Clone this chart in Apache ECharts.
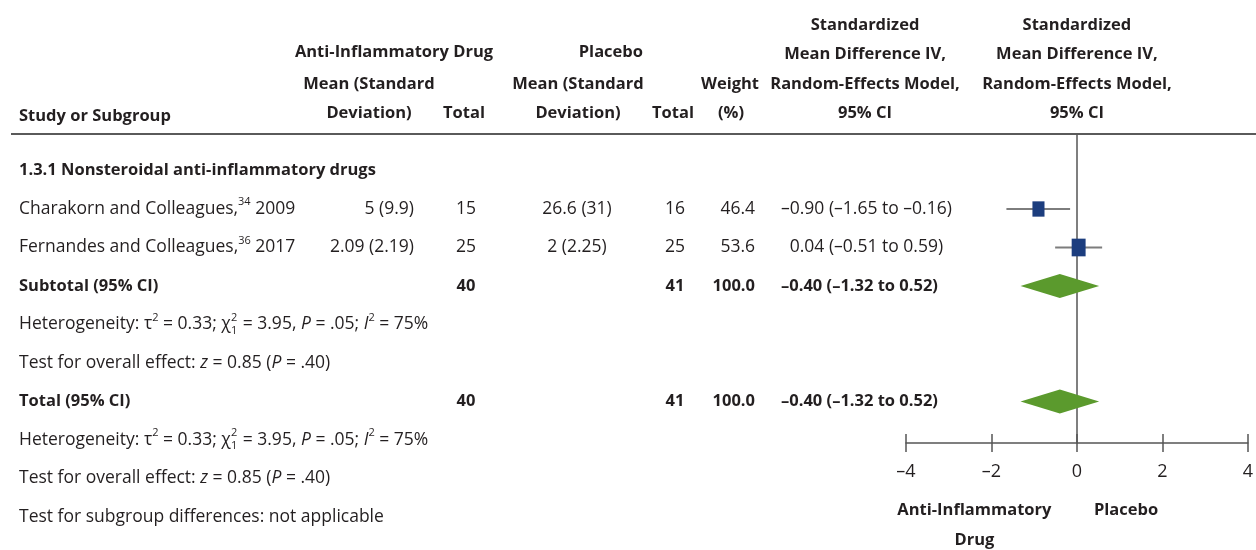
<!DOCTYPE html>
<html>
<head>
<meta charset="utf-8">
<script src="https://cdn.jsdelivr.net/npm/echarts@6/dist/echarts.min.js"></script>
<style>
html, body { margin: 0; padding: 0; background: #fff; }
#chart { width: 1256px; height: 550px; }
</style>
</head>
<body>
<div id="chart"></div>
<script>
// ---- data ----
var groupTitle = '1.3.1 Nonsteroidal anti-inflammatory drugs';
var studyNames = ['Charakorn and Colleagues,', 'Fernandes and Colleagues,'];
var studyRefs = ['34', '36'];
var studyYears = ['2009', '2017'];
var drugMean = [5, 2.09];
var drugSD = [9.9, 2.19];
var drugTotal = [15, 25];
var placeboMean = [26.6, 2];
var placeboSD = [31, 2.25];
var placeboTotal = [16, 25];
var weights = [46.4, 53.6];
var smd = [-0.90, 0.04];
var ciLow = [-1.65, -0.51];
var ciHigh = [-0.16, 0.59];
var pooledLabels = ['Subtotal (95% CI)', 'Total (95% CI)'];
var pooledDrugTotal = [40, 40];
var pooledPlaceboTotal = [41, 41];
var pooledWeight = [100.0, 100.0];
var pooledSmd = [-0.40, -0.40];
var pooledLow = [-1.32, -1.32];
var pooledHigh = [0.52, 0.52];
var xTicks = [-4, -2, 0, 2, 4];
var tau2 = '0.33', chi2 = '3.95', chiDf = '1', hetP = '.05', iSq = '75%';
var zVal = '0.85', zP = '.40';

// row index of each line in the table
var studyRows = [1, 2];
var pooledRows = [3, 6];
var hetRows = [4, 7];
var testRows = [5, 8];
var subgroupRow = 9;

var FONT = '"Open Sans", sans-serif';
var INK = '#231f20';
var LEFT = 19;
var chart = echarts.init(document.getElementById('chart'));

var ctx = document.createElement('canvas').getContext('2d');
var ST = {
  n: { size: 17.5, weight: 'normal', style: 'normal', dy: 0 },
  b: { size: 16.5, weight: 'bold', style: 'normal', dy: 0 },
  i: { size: 17.5, weight: 'normal', style: 'italic', dy: 0 },
  sup: { size: 11, weight: 'normal', style: 'normal', dy: -7 },
  sub: { size: 11, weight: 'normal', style: 'normal', dy: 6 }
};
function fontOf(s) { return s.style + ' ' + s.weight + ' ' + s.size + 'px ' + FONT; }
function measure(t, s) { ctx.font = fontOf(s); return ctx.measureText(t).width; }
function txt(t, x, y, s) {
  return {
    type: 'text', x: x, y: y + s.dy, silent: true,
    style: {
      text: t, fontSize: s.size, fontFamily: FONT, fontWeight: s.weight, fontStyle: s.style,
      fill: INK, align: 'left', verticalAlign: 'middle'
    }
  };
}
// segs: [kind, text] or ['ss', sup, sub]
function line(segs, x, y, align) {
  var widths = segs.map(function (g) {
    if (g[0] === 'ss') return Math.max(measure(g[1], ST.sup), measure(g[2], ST.sub)) + 1;
    return measure(g[1], ST[g[0]]);
  });
  var total = widths.reduce(function (a, b) { return a + b; }, 0);
  var cx = align === 'right' ? x - total : align === 'center' ? x - total / 2 : x;
  var out = [];
  segs.forEach(function (g, k) {
    if (g[0] === 'ss') {
      out.push(txt(g[1], cx, y, ST.sup));
      out.push(txt(g[2], cx, y, ST.sub));
    } else {
      out.push(txt(g[1], cx, y, ST[g[0]]));
    }
    cx += widths[k];
  });
  return out;
}
function fmt(v) {
  var s = Math.abs(v).toFixed(2);
  return (v < 0 ? '\u2013' : '') + s;
}
function ciText(e, l, h) { return fmt(e) + ' (' + fmt(l) + ' to ' + fmt(h) + ')'; }
// estimate column: digits line up, a leading minus hangs to the left
function ciX(e, s) { return e < 0 ? 781 : 781 + measure('\u2013', s); }

var forestData = [];
smd.forEach(function (v, k) { forestData.push([v, ciLow[k], ciHigh[k], studyRows[k], weights[k], 0]); });
pooledSmd.forEach(function (v, k) { forestData.push([v, pooledLow[k], pooledHigh[k], pooledRows[k], pooledWeight[k], 1]); });

var xAxisBase = {
  type: 'value', min: xTicks[0], max: xTicks[xTicks.length - 1], interval: 2,
  position: 'bottom', splitLine: { show: false }
};

chart.setOption({
  animation: false,
  grid: { left: 906, right: 4, top: 135, bottom: 107 },
  xAxis: [
    Object.assign({}, xAxisBase, {
      axisLine: { show: true, onZero: false, lineStyle: { color: '#555', width: 1.5 } },
      axisTick: { show: true, length: 9, lineStyle: { color: '#555', width: 1.5 } },
      axisLabel: {
        margin: 20, fontSize: 18, fontFamily: FONT, color: INK,
        formatter: function (v) { return v < 0 ? '\u2013' + Math.abs(v) : String(v); }
      }
    }),
    Object.assign({}, xAxisBase, {
      axisLine: { show: false, onZero: false },
      axisTick: { show: true, inside: true, length: 9, lineStyle: { color: '#555', width: 1.5 } },
      axisLabel: { show: false }
    })
  ],
  yAxis: {
    type: 'value', inverse: true, min: -0.922, max: 7.078,
    axisLine: { show: true, onZero: true, lineStyle: { color: '#555', width: 1.5 } },
    axisTick: { show: false }, axisLabel: { show: false }, splitLine: { show: false }
  },
  series: [{
    type: 'custom',
    xAxisIndex: 0,
    encode: { x: [0, 1, 2], y: 3 },
    data: forestData,
    renderItem: function (params, api) {
      var row = api.value(3), w = api.value(4), kind = api.value(5);
      var c = api.coord([api.value(0), row]);
      var l = api.coord([api.value(1), row]);
      var h = api.coord([api.value(2), row]);
      if (kind === 1) {
        return {
          type: 'polygon',
          shape: { points: [[l[0], c[1]], [c[0], c[1] - 12], [h[0], c[1]], [c[0], c[1] + 12]] },
          style: { fill: '#5b9a2d' }
        };
      }
      var bw = w * 0.26, bh = w * 0.33;
      return {
        type: 'group',
        children: [
          { type: 'line', shape: { x1: l[0], y1: c[1], x2: h[0], y2: c[1] }, style: { stroke: '#7d7d7d', lineWidth: 2 } },
          { type: 'rect', shape: { x: c[0] - bw / 2, y: c[1] - bh / 2, width: bw, height: bh }, style: { fill: '#1c3d7e' } }
        ]
      };
    }
  }]
});

function rowY(r) { return chart.convertToPixel({ yAxisIndex: 0 }, r); }
function colX(v) { return chart.convertToPixel({ xAxisIndex: 0 }, v); }

var els = [];
function add(a) { els = els.concat(a); }

// header
var hdr = [25, 54, 84, 113];
add(line([['b', 'Study or Subgroup']], LEFT, 116, 'left'));
add(line([['b', 'Anti-Inflammatory Drug']], 394, 52, 'center'));
add(line([['b', 'Mean (Standard']], 369, hdr[2], 'center'));
add(line([['b', 'Deviation)']], 369, hdr[3], 'center'));
add(line([['b', 'Total']], 464, hdr[3], 'center'));
add(line([['b', 'Placebo']], 643, 52, 'right'));
add(line([['b', 'Mean (Standard']], 578, hdr[2], 'center'));
add(line([['b', 'Deviation)']], 578, hdr[3], 'center'));
add(line([['b', 'Total']], 673, hdr[3], 'center'));
add(line([['b', 'Weight']], 730, hdr[2], 'center'));
add(line([['b', '(%)']], 731, hdr[3], 'center'));
[865, colX(0)].forEach(function (cx) {
  add(line([['b', 'Standardized']], cx, hdr[0], 'center'));
  add(line([['b', 'Mean Difference IV,']], cx, hdr[1], 'center'));
  add(line([['b', 'Random-Effects Model,']], cx, hdr[2], 'center'));
  add(line([['b', '95% CI']], cx, hdr[3], 'center'));
});
els.push({ type: 'line', silent: true, shape: { x1: 11, y1: 134, x2: 1256, y2: 134 }, style: { stroke: '#5a5a5a', lineWidth: 2 } });

// body
add(line([['b', groupTitle]], LEFT, rowY(0), 'left'));
studyNames.forEach(function (nm, k) {
  var y = rowY(studyRows[k]);
  add(line([['n', nm], ['sup', studyRefs[k]], ['n', ' ' + studyYears[k]]], LEFT, y, 'left'));
  add(line([['n', drugMean[k] + ' (' + drugSD[k] + ')']], 414, y, 'right'));
  add(line([['n', String(drugTotal[k])]], 466, y, 'center'));
  add(line([['n', placeboMean[k] + ' (' + placeboSD[k] + ')']], 577, y, 'center'));
  add(line([['n', String(placeboTotal[k])]], 675, y, 'center'));
  add(line([['n', weights[k].toFixed(1)]], 755, y, 'right'));
  add(line([['n', ciText(smd[k], ciLow[k], ciHigh[k])]], ciX(smd[k], ST.n), y, 'left'));
});
pooledLabels.forEach(function (nm, k) {
  var y = rowY(pooledRows[k]);
  add(line([['b', nm]], LEFT, y, 'left'));
  add(line([['b', String(pooledDrugTotal[k])]], 466, y, 'center'));
  add(line([['b', String(pooledPlaceboTotal[k])]], 675, y, 'center'));
  add(line([['b', pooledWeight[k].toFixed(1)]], 755, y, 'right'));
  add(line([['b', ciText(pooledSmd[k], pooledLow[k], pooledHigh[k])]], ciX(pooledSmd[k], ST.b), y, 'left'));
});
hetRows.forEach(function (r) {
  add(line([
    ['n', 'Heterogeneity: \u03c4'], ['sup', '2'], ['n', ' = ' + tau2 + '; \u03c7'], ['ss', '2', chiDf],
    ['n', ' = ' + chi2 + ', '], ['i', 'P'], ['n', ' = ' + hetP + '; '], ['i', 'I'], ['sup', '2'], ['n', ' = ' + iSq]
  ], LEFT, rowY(r), 'left'));
});
testRows.forEach(function (r) {
  add(line([['n', 'Test for overall effect: '], ['i', 'z'], ['n', ' = ' + zVal + ' ('], ['i', 'P'], ['n', ' = ' + zP + ')']], LEFT, rowY(r), 'left'));
});
add(line([['n', 'Test for subgroup differences: not applicable']], LEFT, rowY(subgroupRow), 'left'));

// favours labels under the axis
add(line([['b', 'Anti-Inflammatory']], colX(-2.4), 510, 'center'));
add(line([['b', 'Drug']], colX(-2.4), 540, 'center'));
add(line([['b', 'Placebo']], colX(1.15), 510, 'center'));

chart.setOption({ graphic: { elements: els } });
</script>
</body>
</html>
